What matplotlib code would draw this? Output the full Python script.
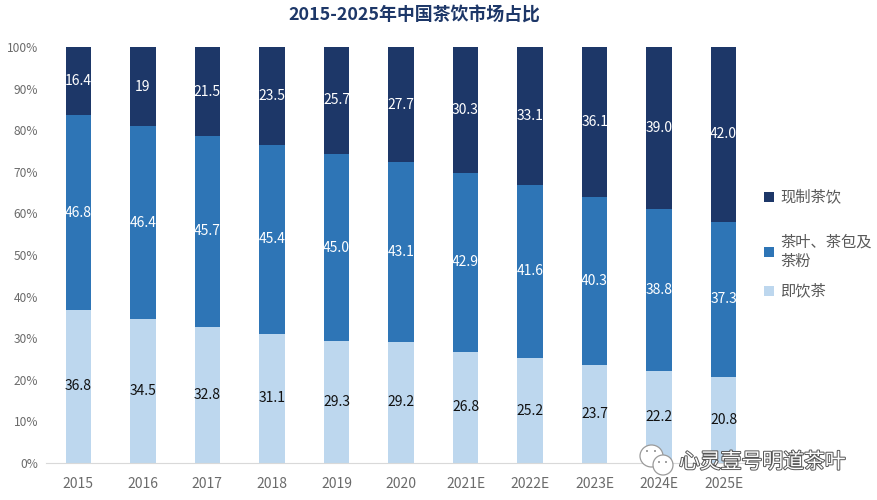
import numpy as np
import matplotlib
matplotlib.use("Agg")
import matplotlib.pyplot as plt
import matplotlib.patheffects as pe
from matplotlib.patches import Rectangle, Ellipse

plt.rcParams['font.family'] = ['Noto Sans CJK SC', 'DejaVu Sans']

years = ['2015', '2016', '2017', '2018', '2019', '2020', '2021E', '2022E', '2023E', '2024E', '2025E']
rtd = [36.8, 34.5, 32.8, 31.1, 29.3, 29.2, 26.8, 25.2, 23.7, 22.2, 20.8]
leaf = [46.8, 46.4, 45.7, 45.4, 45.0, 43.1, 42.9, 41.6, 40.3, 38.8, 37.3]
fresh = [16.4, 19, 21.5, 23.5, 25.7, 27.7, 30.3, 33.1, 36.1, 39.0, 42.0]
leaf_labels = ['46.8', '46.4', '45.7', '45.4', '45.0', '43.1', '42.9', '41.6', '40.3', '38.8', '37.3']
fresh_labels = ['16.4', '19', '21.5', '23.5', '25.7', '27.7', '30.3', '33.1', '36.1', '39.0', '42.0']
rtd_labels = ['36.8', '34.5', '32.8', '31.1', '29.3', '29.2', '26.8', '25.2', '23.7', '22.2', '20.8']
series_names = ['现制茶饮', '茶叶、茶包及\n茶粉', '即饮茶']
title = '2015-2025年中国茶饮市场占比'
watermark = '心灵壹号明道茶叶'

C_FRESH, C_LEAF, C_RTD = '#1d3768', '#2e75b6', '#bdd7ee'
W, H = 877, 500

fig = plt.figure(figsize=(W / 100, H / 100), dpi=100, facecolor='white')
ax = fig.add_axes([46 / W, 1 - 463 / H, 710 / W, 416 / H])

x = np.arange(len(years))
a, b, c = map(np.array, (rtd, leaf, fresh))
tot = a + b + c
pa, pb, pc = a / tot * 100, b / tot * 100, c / tot * 100
w = 0.395
ax.bar(x, pa, w, color=C_RTD)
ax.bar(x, pb, w, bottom=pa, color=C_LEAF)
ax.bar(x, pc, w, bottom=pa + pb, color=C_FRESH)

for i in x:
    ax.text(i, pa[i] / 2, rtd_labels[i], ha='center', va='center', fontsize=10, color='#111111')
    ax.text(i, pa[i] + pb[i] / 2, leaf_labels[i], ha='center', va='center', fontsize=10, color='white')
    ax.text(i, pa[i] + pb[i] + pc[i] / 2, fresh_labels[i], ha='center', va='center', fontsize=10, color='white')

ax.set_xlim(-0.5, 10.5)
ax.set_ylim(0, 100)
ax.set_xticks(x, years)
ax.set_yticks(np.arange(0, 101, 10), [f'{v}%' for v in range(0, 101, 10)])
ax.tick_params(length=0, labelcolor='#6b6b6b')
ax.tick_params(axis='x', pad=10, labelsize=10)
ax.tick_params(axis='y', pad=5.5, labelsize=8.6)
for s in ['top', 'right', 'left']:
    ax.spines[s].set_visible(False)
ax.spines['bottom'].set_color('#d9d9d9')

fig.text(414 / W, 1 - 16 / H, title, ha='center', va='center', fontsize=12.9, fontweight='bold', color='#1d3768')

# legend
leg_y = [197, 252, 291]
leg_c = [C_FRESH, C_LEAF, C_RTD]
for y, col, name in zip(leg_y, leg_c, series_names):
    fig.add_artist(Rectangle((764 / W, 1 - (y + 5) / H), 10 / W, 10 / H, transform=fig.transFigure, color=col, lw=0))
    fig.text(780 / W, 1 - y / H, name, ha='left', va='center', fontsize=11, color='#595959', linespacing=1.15)

# watermark
fig.text(679 / W, 1 - 462 / H, watermark, ha='left', va='center', fontsize=15, color='white',
         path_effects=[pe.withStroke(linewidth=1.4, foreground='#555555')])
for (cx, cy, ew, eh) in [(651.5, 456, 23, 22), (663, 465, 20, 20)]:
    fig.add_artist(Ellipse((cx / W, 1 - cy / H), ew / W, eh / H, transform=fig.transFigure,
                           fc='white', ec='#9a9a9a', lw=0.9))
for (cx, cy) in [(647, 451), (655, 451), (659, 462), (666, 462)]:
    fig.add_artist(Ellipse((cx / W, 1 - cy / H), 2 / W, 2 / H, transform=fig.transFigure, fc='#8a8a8a', lw=0))

fig.savefig('out.png', dpi=100, facecolor='white')
